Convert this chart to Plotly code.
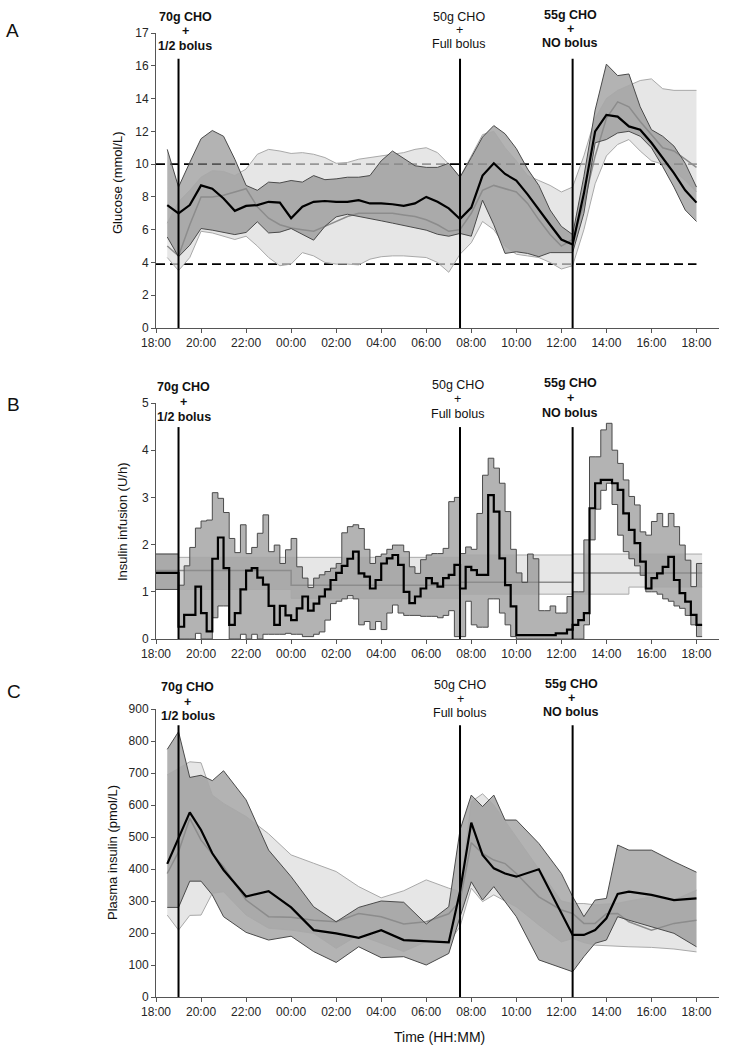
import plotly.graph_objects as go

W, H = 729, 1050
FONT = "Liberation Sans, Arial, sans-serif"
TXT = "#262626"
AXC = "#555555"

# ---------------- shared ----------------
X_RANGE = ["2020-01-01 18:00", "2020-01-02 19:00"]
X_TICK0 = "2020-01-01 18:00"
EVENT_TIMES = ["19:00", "07:30", "12:30"]
EVENT_TEXT = [["70g CHO", "+", "1/2 bolus"],
              ["50g CHO", "+", "Full bolus"],
              ["55g CHO", "+", "NO bolus"]]
EVENT_BOLD = [True, False, True]

# ---------------- Panel A: glucose (mmol/L) ----------------
TIME_A = ["18:30", "19:00", "19:30", "20:00", "20:30", "21:00", "21:30", "22:00", "22:30",
          "23:00", "23:30", "00:00", "00:30", "01:00", "01:30", "02:00", "02:30",
          "03:00", "03:30", "04:00", "04:30", "05:00", "05:30", "06:00", "06:30",
          "07:00", "07:30", "08:00", "08:30", "09:00", "09:30", "10:00", "10:30",
          "11:00", "11:30", "12:00", "12:30", "13:00", "13:30", "14:00", "14:30",
          "15:00", "15:30", "16:00", "16:30", "17:00", "17:30", "18:00"]
GLU_CL_MED = [7.5, 7.0, 7.5, 8.7, 8.5, 7.9, 7.15, 7.45, 7.5, 7.7, 7.65, 6.7, 7.4, 7.7, 7.75, 7.7, 7.7,
              7.8, 7.6, 7.6, 7.55, 7.45, 7.6, 8.0, 7.7, 7.3, 6.65, 7.35, 9.3, 10.05, 9.4, 9.0, 8.15,
              7.2, 6.3, 5.4, 5.1, 8.2, 12.0, 13.0, 12.9, 12.3, 12.1, 11.3, 10.35, 9.45, 8.4, 7.65]
GLU_CL_UP = [10.9, 8.6, 10.1, 11.55, 12.05, 11.7, 10.3, 8.7, 8.4, 8.9, 8.85, 9.0, 8.9, 9.3, 9.05, 9.1, 9.2,
             9.2, 9.3, 10.2, 10.8, 10.35, 9.9, 9.8, 9.8, 10.05, 9.2, 10.4, 11.65, 12.35, 11.85, 10.95, 9.7,
             8.7, 7.2, 6.2, 5.7, 9.25, 13.3, 16.1, 15.4, 15.5, 13.5, 12.1, 11.7, 11.1, 10.05, 8.6]
GLU_CL_LO = [5.55, 4.35, 5.05, 6.07, 5.97, 5.83, 5.7, 5.83, 6.48, 5.8, 5.85, 6.07, 5.72, 5.36, 6.2, 6.78, 6.94,
             6.82, 6.68, 6.54, 6.4, 6.27, 6.13, 5.97, 5.72, 5.6, 5.77, 5.6, 7.8, 6.3, 4.55, 4.65, 4.55,
             4.35, 4.6, 4.6, 4.6, 7.0, 11.3, 11.5, 11.9, 12.0, 11.7, 11.0, 9.85, 8.6, 7.2, 6.5]
GLU_CT_MED = [5.0, 4.4, 6.3, 8.0, 8.0, 8.1, 8.3, 8.5, 7.4, 6.7, 6.3, 6.1, 6.0, 5.9, 6.2, 6.5, 6.8,
              7.0, 7.0, 7.0, 7.0, 6.9, 6.8, 6.6, 6.3, 5.9, 6.0, 7.0, 8.4, 8.7, 8.5, 8.3, 7.6,
              6.6, 5.7, 5.0, 5.4, 7.6, 10.5, 12.8, 13.8, 13.5, 12.6, 11.8, 11.0, 10.8, 10.3, 9.8]
GLU_CT_UP = [6.4, 7.7, 8.4, 9.2, 9.6, 9.55, 9.3, 9.7, 10.6, 10.9, 10.8, 10.65, 10.7, 10.6, 10.4, 10.05, 10.1,
             10.3, 10.4, 10.5, 10.6, 10.7, 10.9, 11.0, 10.7, 10.0, 9.2, 10.5, 11.8, 12.0, 11.0, 10.2, 9.3,
             9.0, 8.7, 8.3, 8.6, 10.5, 12.8, 14.0, 14.5, 14.8, 15.1, 15.2, 14.6, 14.5, 14.5, 14.5]
GLU_CT_LO = [4.3, 3.5, 4.3, 5.9, 5.8, 5.6, 5.4, 5.6, 5.0, 4.3, 3.8, 3.9, 4.6, 4.4, 4.0, 3.9, 3.9,
             3.85, 4.2, 4.35, 4.4, 4.4, 4.35, 4.3, 4.0, 3.4, 4.5, 5.2, 6.5, 6.0, 5.0, 4.5, 4.4,
             4.3, 4.0, 3.6, 3.8, 6.0, 8.8, 10.5, 11.2, 11.5, 10.8, 10.2, 10.0, 9.6, 9.0, 8.3]
GLU_TARGETS = [10.0, 3.9]
GLU_TICKVALS = [0, 2, 4, 6, 8, 10, 12, 14, 16, 18]
GLU_TICKTEXT = ["0", "2", "4", "6", "8", "10", "12", "14", "16", "17"]

# ---------------- Panel B: insulin infusion (U/h), 15-min steps ----------------
TIME_B = ["18:00",
          "19:00", "19:15", "19:30", "19:45", "20:00", "20:15", "20:30", "20:45",
          "21:00", "21:15", "21:30", "21:45", "22:00", "22:15", "22:30", "22:45",
          "23:00", "23:15", "23:30", "23:45", "00:00", "00:15", "00:30", "00:45",
          "01:00", "01:15", "01:30", "01:45", "02:00", "02:15", "02:30", "02:45",
          "03:00", "03:15", "03:30", "03:45", "04:00", "04:15", "04:30", "04:45",
          "05:00", "05:15", "05:30", "05:45", "06:00", "06:15", "06:30", "06:45",
          "07:00", "07:15", "07:30", "07:45", "08:00", "08:15", "08:30", "08:45",
          "09:00", "09:15", "09:30", "09:45", "10:00", "10:15", "10:30", "10:45",
          "11:00", "11:15", "11:30", "11:45", "12:00", "12:15", "12:30", "12:45",
          "13:00", "13:15", "13:30", "13:45", "14:00", "14:15", "14:30", "14:45",
          "15:00", "15:15", "15:30", "15:45", "16:00", "16:15", "16:30", "16:45",
          "17:00", "17:15", "17:30", "17:45", "18:00", "18:15"]
INS_CL_MED = [1.4,
              0.26, 0.51, 0.51, 1.11, 0.55, 0.16, 1.7, 2.15,
              1.5, 0.3, 0.55, 1.05, 1.45, 1.5, 1.3, 1.15,
              0.7, 0.3, 0.7, 0.5, 0.4, 0.65, 0.9, 0.6,
              0.75, 0.9, 1.05, 1.25, 1.4, 1.55, 1.7, 1.85,
              1.39, 1.32, 1.07, 1.25, 1.6, 1.71, 1.78, 1.57,
              1.0, 0.76, 0.9, 1.07, 1.29, 1.18, 1.11, 1.29,
              1.36, 1.57, 1.07, 1.53, 1.46, 1.36, 1.36, 3.05,
              2.7, 1.71, 1.14, 0.69, 0.08, 0.08, 0.08, 0.08,
              0.08, 0.08, 0.08, 0.12, 0.12, 0.2, 0.3, 0.4,
              0.55, 2.77, 3.3, 3.37, 3.37, 3.3, 3.16, 2.66,
              2.31, 2.03, 1.64, 1.07, 1.29, 1.39, 1.53, 1.74,
              1.25, 0.97, 0.79, 0.51, 0.3, 0.3]
INS_CL_UP = [1.8,
             1.14, 1.55, 1.94, 2.35, 2.5, 2.52, 3.1, 2.98,
             2.68, 2.13, 1.83, 2.42, 1.81, 1.94, 2.24, 2.63,
             1.85, 1.99, 1.6, 1.89, 2.13, 1.53, 1.29, 1.09,
             1.29, 1.36, 1.43, 1.5, 1.6, 2.25, 2.38, 2.42,
             2.34, 1.9, 1.6, 1.75, 1.8, 1.9, 1.99, 1.99,
             1.85, 1.53, 1.39, 1.68, 1.78, 1.81, 1.81, 1.92,
             2.91, 3.0, 1.81, 1.95, 1.9, 2.66, 3.47, 3.83,
             3.62, 3.3, 2.7, 1.9, 1.4, 1.2, 1.8, 1.7,
             0.6, 0.6, 0.7, 0.55, 0.55, 0.9, 1.0, 1.0,
             2.1, 3.86, 3.86, 4.43, 4.57, 4.0, 3.72, 3.37,
             3.02, 2.84, 2.27, 2.2, 2.49, 2.66, 2.38, 2.66,
             2.38, 1.99, 1.67, 1.11, 1.6, 1.6]
INS_CL_LO = [1.05,
             0.0, 0.0, 0.0, 0.12, 0.0, 0.0, 0.45, 0.7,
             0.7, 0.0, 0.0, 0.1, 0.0, 0.1, 0.0, 0.1,
             0.1, 0.1, 0.1, 0.12, 0.1, 0.1, 0.05, 0.05,
             0.1, 0.15, 0.4, 0.75, 0.8, 0.85, 0.92, 0.85,
             0.3, 0.37, 0.2, 0.37, 0.2, 0.55, 0.72, 0.55,
             0.5, 0.5, 0.5, 0.48, 0.48, 0.48, 0.45, 0.5,
             0.6, 0.05, 0.05, 0.8, 0.3, 0.25, 0.25, 0.85,
             0.85, 0.55, 0.3, 0.05, 0.0, 0.0, 0.0, 0.0,
             0.0, 0.0, 0.0, 0.0, 0.0, 0.0, 0.0, 0.0,
             0.3, 2.1, 2.75, 3.15, 3.3, 2.85, 2.2, 1.85,
             1.7, 1.55, 1.35, 1.0, 1.0, 0.95, 0.85, 0.8,
             0.7, 0.65, 0.5, 0.3, 0.05, 0.05]
TIME_B_CT = ["18:00", "19:00", "00:00", "07:30", "12:30", "15:00", "18:15"]
INS_CT_UP = [1.8, 1.73, 1.73, 1.78, 1.8, 1.8, 1.8]
INS_CT_MED = [1.45, 1.45, 1.14, 1.2, 1.4, 1.4, 1.4]
INS_CT_LO = [1.05, 1.05, 0.86, 0.95, 0.95, 1.1, 1.1]

# ---------------- Panel C: plasma insulin (pmol/L) ----------------
TIME_C = ["18:30", "19:00", "19:30", "20:00", "20:30", "21:00", "22:00", "23:00", "00:00",
          "01:00", "02:00", "03:00", "04:00", "05:00", "06:00", "07:00", "07:30", "08:00",
          "08:30", "09:00", "09:30", "10:00", "11:00", "12:00", "12:30", "13:00", "13:30",
          "14:00", "14:30", "15:00", "16:00", "17:00", "18:00"]
PI_CL_MED = [416, 496, 577, 522, 449, 397, 314, 331, 280, 209, 199, 185, 209, 178, 175, 171, 330,
             545, 444, 402, 386, 376, 399, 261, 194, 194, 209, 246, 322, 329, 319, 303, 308]
PI_CL_UP = [774, 829, 686, 693, 676, 707, 616, 459, 376, 282, 235, 280, 300, 296, 228, 282, 522,
            631, 595, 631, 553, 553, 480, 386, 314, 251, 303, 308, 475, 459, 459, 423, 390]
PI_CL_LO = [280, 280, 362, 362, 319, 251, 202, 178, 190, 142, 108, 157, 123, 126, 100, 136, 250,
            360, 303, 345, 298, 251, 116, 90, 79, 126, 168, 178, 251, 240, 220, 199, 157]
PI_CT_UP = [694, 715, 735, 732, 631, 605, 564, 510, 444, 418, 392, 345, 310, 332, 366, 340, 330,
            610, 635, 600, 550, 500, 400, 300, 292, 292, 288, 290, 293, 300, 313, 303, 334]
PI_CT_MED = [386, 454, 558, 490, 447, 407, 303, 251, 249, 240, 235, 261, 251, 228, 235, 260, 300,
             482, 449, 428, 417, 386, 313, 272, 261, 230, 230, 260, 261, 235, 209, 230, 240]
PI_CT_LO = [256, 209, 255, 256, 324, 329, 256, 215, 209, 199, 152, 194, 168, 142, 173, 170, 220,
            340, 298, 319, 300, 282, 225, 172, 183, 170, 162, 160, 157, 157, 155, 150, 141]


def to_dt(times):
    out, day2 = [], False
    for t in times:
        if int(t[:2]) < 18:
            day2 = True
        out.append(("2020-01-02 " if day2 else "2020-01-01 ") + t)
    return out


# ---------------- styles ----------------
LIGHT_FILL = "rgba(219,219,219,0.69)"
DARK_FILL = "rgba(134,134,134,0.63)"
LIGHT_EDGE = "#a9a9a9"
DARK_EDGE = "#4a4a4a"
CT_MED = "#8c8c8c"

fig = go.Figure()


def add_band(xa, ya, x, up, lo, fill, shape):
    fig.add_trace(go.Scatter(x=x, y=up, xaxis=xa, yaxis=ya, mode="lines",
                             line=dict(width=0, shape=shape), hoverinfo="skip", showlegend=False))
    fig.add_trace(go.Scatter(x=x, y=lo, xaxis=xa, yaxis=ya, mode="lines",
                             line=dict(width=0, shape=shape), fill="tonexty", fillcolor=fill,
                             hoverinfo="skip", showlegend=False))


def add_line(xa, ya, x, y, color, width, shape):
    fig.add_trace(go.Scatter(x=x, y=y, xaxis=xa, yaxis=ya, mode="lines",
                             line=dict(color=color, width=width, shape=shape),
                             hoverinfo="skip", showlegend=False))


def draw_panel(xa, ya, xcl, cl_up, cl_med, cl_lo, xct, ct_up, ct_med, ct_lo, shape):
    add_band(xa, ya, xct, ct_up, ct_lo, LIGHT_FILL, shape)
    add_band(xa, ya, xcl, cl_up, cl_lo, DARK_FILL, shape)
    add_line(xa, ya, xct, ct_up, LIGHT_EDGE, 1, shape)
    add_line(xa, ya, xct, ct_lo, LIGHT_EDGE, 1, shape)
    add_line(xa, ya, xct, ct_med, CT_MED, 1.5, shape)
    add_line(xa, ya, xcl, cl_up, DARK_EDGE, 1, shape)
    add_line(xa, ya, xcl, cl_lo, DARK_EDGE, 1, shape)
    add_line(xa, ya, xcl, cl_med, "#000000", 2.2, shape)


xA = to_dt(TIME_A)
draw_panel("x", "y", xA, GLU_CL_UP, GLU_CL_MED, GLU_CL_LO,
           xA, GLU_CT_UP, GLU_CT_MED, GLU_CT_LO, "linear")
xB = to_dt(TIME_B)
xBc = to_dt(TIME_B_CT)
draw_panel("x2", "y2", xB, INS_CL_UP, INS_CL_MED, INS_CL_LO,
           xBc, INS_CT_UP, INS_CT_MED, INS_CT_LO, "hv")
xC = to_dt(TIME_C)
draw_panel("x3", "y3", xC, PI_CL_UP, PI_CL_MED, PI_CL_LO,
           xC, PI_CT_UP, PI_CT_MED, PI_CT_LO, "linear")

# ---------------- layout ----------------
PANELS = [  # (top px, bottom px, y range, tickvals, ticktext, event line top fraction)
    (33, 328, [0, 18], GLU_TICKVALS, GLU_TICKTEXT, 0.913),
    (403, 639, [0, 5], [0, 1, 2, 3, 4, 5], None, 0.898),
    (709, 997, [0, 900], list(range(0, 901, 100)), None, 0.944),
]
X_DOM = [156 / W, 719 / W]
layout = dict(width=W, height=H, template="none",
              margin=dict(l=0, r=0, t=0, b=0, pad=0, autoexpand=False),
              paper_bgcolor="white", plot_bgcolor="white", hovermode=False,
              font=dict(family=FONT, color=TXT), showlegend=False)
shapes, annotations = [], []
ev_dt = to_dt(EVENT_TIMES)
for i, (top, bot, yr, tv, tt, ftop) in enumerate(PANELS):
    sfx = "" if i == 0 else str(i + 1)
    layout["xaxis" + sfx] = dict(
        domain=X_DOM, anchor="y" + sfx, type="date", range=X_RANGE, tick0=X_TICK0,
        dtick=7200000, tickformat="%H:%M", showline=True, linecolor=AXC, linewidth=1,
        ticks="outside", ticklen=4, tickcolor=AXC, showgrid=False, zeroline=False,
        automargin=False, tickfont=dict(family=FONT, size=12, color=TXT))
    ya = dict(domain=[1 - bot / H, 1 - top / H], anchor="x" + sfx, range=yr,
              tickvals=tv, showline=True, linecolor=AXC, linewidth=1, ticks="outside",
              ticklen=4, tickcolor=AXC, showgrid=False, zeroline=False, automargin=False,
              tickfont=dict(family=FONT, size=12, color=TXT))
    if tt is not None:
        ya["ticktext"] = tt
    layout["yaxis" + sfx] = ya
    for t in ev_dt:
        shapes.append(dict(type="line", xref="x" + sfx, yref="y" + sfx + " domain",
                           x0=t, x1=t, y0=0, y1=ftop, line=dict(color="black", width=2),
                           layer="above"))

for v in GLU_TARGETS:
    shapes.append(dict(type="line", xref="x", yref="y", x0=X_TICK0, x1="2020-01-02 18:00",
                       y0=v, y1=v, line=dict(color="black", width=1.6, dash="9px,5px"),
                       layer="below"))


def ann(text, x, y, size, bold=False, angle=0):
    annotations.append(dict(text=("<b>%s</b>" % text) if bold else text, x=x / W, y=1 - y / H,
                            xref="paper", yref="paper", xanchor="center", yanchor="middle",
                            showarrow=False, textangle=angle,
                            font=dict(family=FONT, size=size, color="#111111")))


EV_X = [[185, 459, 570], [184, 458, 570], [188, 460, 571]]
EV_Y = [[[17, 31, 46], [17, 30, 44], [15, 29, 43]],
        [[387, 402, 417], [385, 399, 414], [383, 398, 413]],
        [[687, 702, 716], [685, 699, 713], [684, 698, 712]]]
for p in range(3):
    for e in range(3):
        for k in range(3):
            ann(EVENT_TEXT[e][k], EV_X[p][e], EV_Y[p][e][k], 12.5, EVENT_BOLD[e])

ann("A", 12, 31, 19)
ann("B", 13, 405, 19)
ann("C", 14, 692, 19)
ann("Glucose (mmol/L)", 118, 183, 13, angle=-90)
ann("Insulin infusion (U/h)", 122, 522, 13, angle=-90)
ann("Plasma insulin (pmol/L)", 112, 853, 13, angle=-90)
ann("Time (HH:MM)", 439, 1037, 14)

layout["shapes"] = shapes
layout["annotations"] = annotations
fig.update_layout(**layout)
fig.write_html("out.html",
               config={"displayModeBar": False, "staticPlot": True},
               post_script="document.body.style.margin='0';document.body.style.padding='0';"
                           "document.documentElement.style.overflow='hidden';")
